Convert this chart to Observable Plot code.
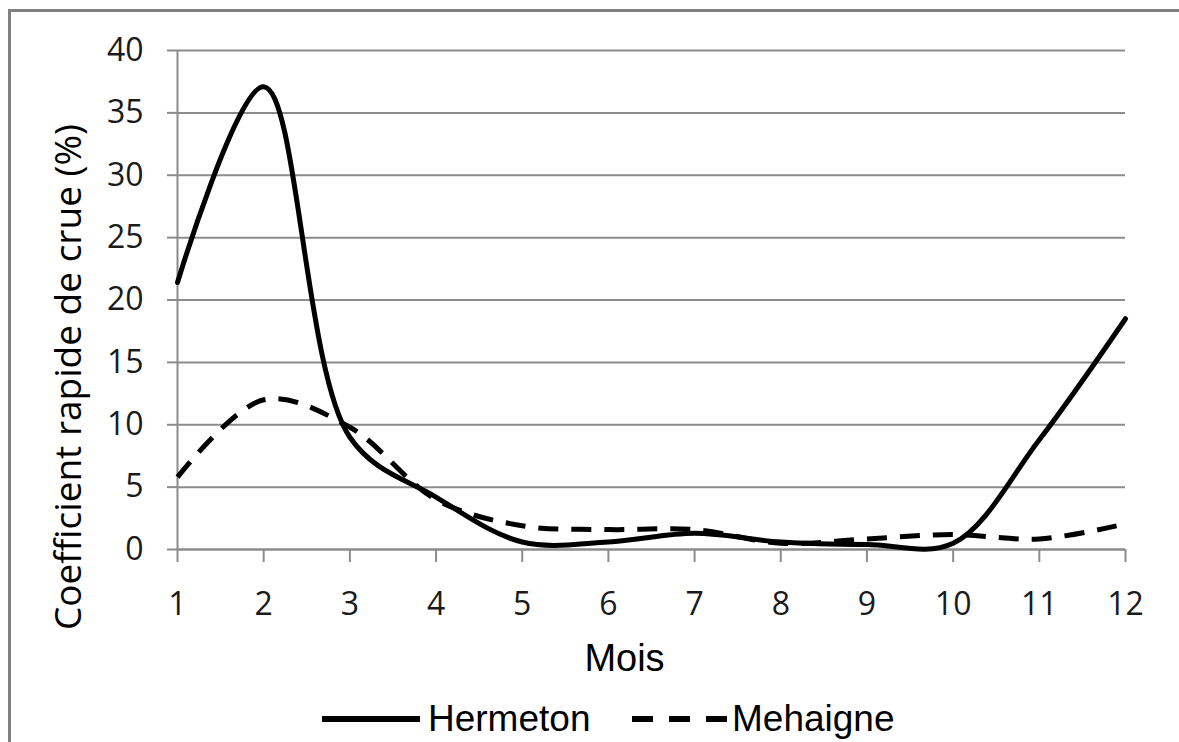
<!DOCTYPE html>
<html>
<head>
<meta charset="utf-8">
<script src="https://cdn.jsdelivr.net/npm/d3@7"></script>
<script src="https://cdn.jsdelivr.net/npm/@observablehq/plot@0.6"></script>
<style>
  html, body { margin: 0; padding: 0; background: #fff; overflow: hidden; }
  #wrap { position: relative; width: 1179px; height: 742px; }
  #frame { position: absolute; left: 8px; top: 9px; width: 2000px; height: 2000px;
           border-top: 3px solid #808080; border-left: 3px solid #808080; pointer-events: none; }
  #legend { position: absolute; left: 0; top: 695px; height: 47px; width: 1179px;
            font-family: "Liberation Sans", Arial, sans-serif; font-size: 37px; color: #000; }
  .item { position: absolute; top: 0; height: 47px; display: flex; align-items: center; }
  .item svg { display: block; }
</style>
</head>
<body>
<div id="wrap">
  <div id="chart"></div>
  <div id="legend"></div>
  <div id="frame"></div>
</div>
<script>
const months = [1, 2, 3, 4, 5, 6, 7, 8, 9, 10, 11, 12];
const hermeton = [21.4, 37.1, 9.0, 4.2, 0.6, 0.6, 1.3, 0.6, 0.4, 0.5, 8.8, 18.5];
const mehaigne = [5.8, 12.0, 9.8, 4.0, 1.9, 1.6, 1.6, 0.5, 0.85, 1.2, 0.85, 2.05];
const seriesNames = ["Hermeton", "Mehaigne"];
const yTicks = [0, 5, 10, 15, 20, 25, 30, 35, 40];
const xTitle = "Mois";
const yTitle = "Coefficient rapide de crue (%)";

const rows = [];
months.forEach((m, i) => {
  rows.push({month: m, value: hermeton[i], serie: seriesNames[0]});
  rows.push({month: m, value: mehaigne[i], serie: seriesNames[1]});
});

const gridColor = "#8c8c8c";

const chart = Plot.plot({
  width: 1179,
  height: 695,
  marginLeft: 177,
  marginRight: 54,
  marginTop: 50,
  marginBottom: 146,
  style: {fontFamily: "'Open Sans', sans-serif", fontSize: "32px", color: "#1a1a1a", background: "transparent"},
  x: {domain: [1, 12], label: null},
  y: {domain: [0, 40], label: null},
  marks: [
    Plot.gridY(yTicks, {stroke: gridColor, strokeOpacity: 1, strokeWidth: 2}),
    Plot.axisY(yTicks, {tickSize: 10, tickPadding: 24, stroke: gridColor, strokeWidth: 2, strokeOpacity: 1, label: null, fill: "#1a1a1a", fontSize: 32}),
    Plot.axisX(months, {tickSize: 13, tickPadding: 30, stroke: gridColor, strokeWidth: 2, strokeOpacity: 1, label: null, fill: "#1a1a1a", fontSize: 32}),
    Plot.ruleX([1], {stroke: gridColor, strokeWidth: 2}),
    Plot.ruleY([0], {stroke: gridColor, strokeWidth: 2}),
    Plot.line(rows.filter(d => d.serie === seriesNames[1]), {x: "month", y: "value", curve: "catmull-rom", stroke: "#000", strokeWidth: 5, strokeDasharray: "20,13", strokeLinecap: "butt"}),
    Plot.line(rows.filter(d => d.serie === seriesNames[0]), {x: "month", y: "value", curve: "catmull-rom", stroke: "#000", strokeWidth: 5}),
    Plot.text([yTitle], {text: d => d, frameAnchor: "left", textAnchor: "middle", rotate: -90, dx: -108, dy: 77, fontSize: 37, fontFamily: "'Open Sans', sans-serif", fill: "#000"}),
    Plot.text([xTitle], {text: d => d, frameAnchor: "bottom", textAnchor: "middle", dx: -27, dy: 121, fontSize: 38, fontFamily: "'Liberation Sans', Arial, sans-serif", fill: "#000"})
  ]
});
document.getElementById("chart").appendChild(chart);

// legend
const legend = document.getElementById("legend");
const legendDefs = [
  {name: seriesNames[0], left: 322, w: 98, dash: null, gap: 8},
  {name: seriesNames[1], left: 632, w: 96, dash: "21,16", gap: 4}
];
legendDefs.forEach(def => {
  const item = document.createElement("div");
  item.className = "item";
  item.style.left = def.left + "px";
  const ns = "http://www.w3.org/2000/svg";
  const s = document.createElementNS(ns, "svg");
  s.setAttribute("width", def.w);
  s.setAttribute("height", 10);
  const l = document.createElementNS(ns, "line");
  l.setAttribute("x1", 0); l.setAttribute("x2", def.w);
  l.setAttribute("y1", 5); l.setAttribute("y2", 5);
  l.setAttribute("stroke", "#000"); l.setAttribute("stroke-width", 6);
  if (def.dash) l.setAttribute("stroke-dasharray", def.dash);
  s.appendChild(l);
  item.appendChild(s);
  const t = document.createElement("span");
  t.textContent = def.name;
  t.style.marginLeft = def.gap + "px";
  item.appendChild(t);
  legend.appendChild(item);
});
</script>
</body>
</html>
